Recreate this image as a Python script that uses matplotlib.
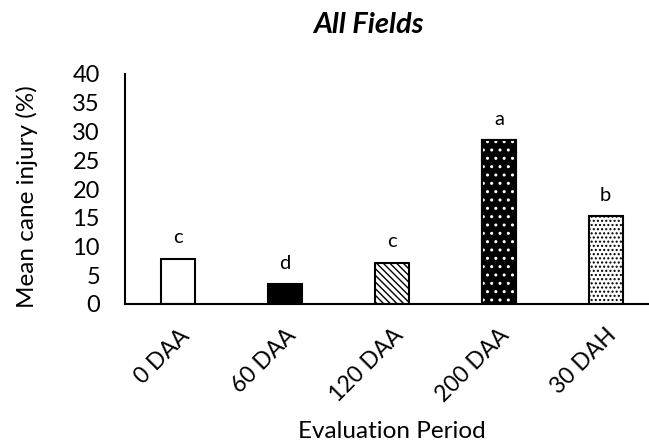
import matplotlib
matplotlib.use('Agg')
import matplotlib.pyplot as plt

# chart data
periods = ['0 DAA', '60 DAA', '120 DAA', '200 DAA', '30 DAH']
injury = [7.9, 3.4, 7.2, 28.5, 15.3]
letters = ['c', 'd', 'c', 'a', 'b']

plt.rcParams['font.family'] = ['Lato', 'DejaVu Sans']
plt.rcParams['hatch.linewidth'] = 1.0

fig = plt.figure(figsize=(6.49, 4.44), dpi=100)
ax = fig.add_axes([125/649, 1-304/444, 524/649, 230/444])

x = list(range(len(periods)))
w = 0.32
faces = ['white', 'black', 'white', 'black', 'white']
hatches = [None, None, '\\\\\\\\\\', None, '....']

bars = ax.bar(x, injury, width=w, color=faces, edgecolor='black', linewidth=1.5, zorder=2)
for b, h in zip(bars, hatches):
    if h:
        b.set_hatch(h)

# white speckle pattern on the black 200 DAA bar
ax.bar([x[3]], [injury[3]], width=w, color='none', edgecolor='white',
       hatch='..', linewidth=0, zorder=3)
ax.bar([x[3]], [injury[3]], width=w, color='none', edgecolor='black',
       linewidth=1.5, zorder=4)

for xi, v, lab in zip(x, injury, letters):
    ax.annotate(lab, (xi, v), xytext=(0, 9), textcoords='offset points',
                ha='center', va='bottom', fontsize=14.5)

ax.set_xlim(-0.5, 4.406)
ax.set_ylim(0, 40)
ax.set_yticks(range(0, 41, 5))
ax.set_xticks(x)
ax.set_xticklabels(periods, rotation=45, ha='right', va='top',
                   rotation_mode='anchor', fontsize=16.5)
ax.tick_params(axis='y', length=0, pad=18, labelsize=17)
ax.tick_params(axis='x', length=0, pad=15)

for s in ['top', 'right']:
    ax.spines[s].set_visible(False)
for s in ['left', 'bottom']:
    ax.spines[s].set_linewidth(1.5)

ax.set_ylabel('Mean cane injury (%)', fontsize=17.5)
ax.yaxis.set_label_coords(-0.166, 0.465)
fig.text(392/649, 1-431/444, 'Evaluation Period', ha='center', va='center', fontsize=17.5)
fig.text(368/649, 1-25/444, 'All Fields', ha='center', va='center',
         fontsize=21, fontweight='bold', fontstyle='italic')

fig.savefig('out.png', dpi=100)
